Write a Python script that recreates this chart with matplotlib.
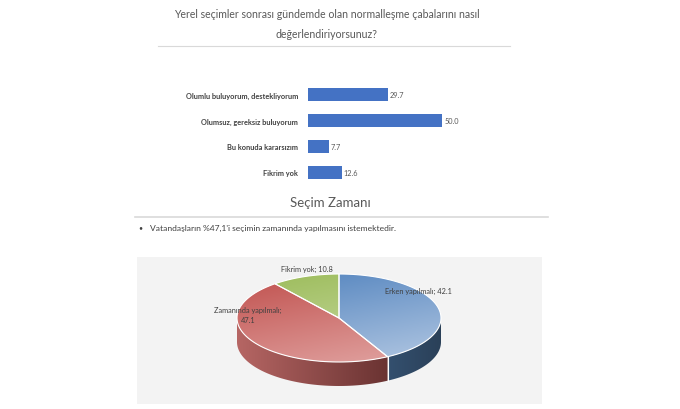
import matplotlib
matplotlib.use('Agg')

import matplotlib.pyplot as plt
from matplotlib.patches import Polygon
from matplotlib.lines import Line2D
from matplotlib.colors import to_rgb
import numpy as np

plt.rcParams['font.family'] = ['Lato', 'DejaVu Sans']

# -----------------------------
# DATA
# -----------------------------
title = 'Yerel seçimler sonrası gündemde olan normalleşme çabalarını nasıl\ndeğerlendiriyorsunuz?'
bar_labels = ['Olumlu buluyorum, destekliyorum', 'Olumsuz, gereksiz buluyorum',
              'Bu konuda kararsızım', 'Fikrim yok']
bar_values = [29.7, 50.0, 7.7, 12.6]

pie_title = 'Seçim Zamanı'
note = "Vatandaşların %47,1'i seçimin zamanında yapılmasını istemektedir."
pie_labels = ['Erken yapılmalı', 'Zamanında yapılmalı', 'Fikrim yok']
pie_values = [42.1, 47.1, 10.8]

# -----------------------------
# FIGURE
# -----------------------------
W, H = 680, 410
fig = plt.figure(figsize=(6.8, 4.1), dpi=100)
fig.patch.set_facecolor('white')


def fx(px):
    return px / W


def fy(py):
    return 1 - py / H


# title + rule
fig.text(fx(327), fy(24), title, ha='center', va='center', fontsize=7.6,
         linespacing=2.0, color='#595959')
fig.add_artist(Line2D([fx(158), fx(510)], [fy(47), fy(47)], color='#d9d9d9', lw=0.8))

# -----------------------------
# BAR CHART
# -----------------------------
ax = fig.add_axes([fx(308), fy(186.5), 160.8 / W, 104 / H])
y = np.arange(len(bar_values))
ax.barh(y, bar_values, height=0.5, color='#4472c4')
for i, v in enumerate(bar_values):
    ax.text(v + 0.8, i, f'{v:.1f}', va='center', ha='left', fontsize=5.3, color='#595959')
ax.set_xlim(0, 60)
ax.set_ylim(3.5, -0.5)
ax.set_yticks(y)
ax.set_yticklabels(bar_labels, fontsize=5.3, fontweight='bold', color='#404040')
ax.tick_params(axis='y', length=0, pad=7)
ax.set_xticks([])
for s in ax.spines.values():
    s.set_visible(False)
ax.patch.set_alpha(0)

# -----------------------------
# SECOND PANEL HEADER
# -----------------------------
fig.text(fx(330), fy(203), pie_title, ha='center', va='center', fontsize=9.5, color='#595959')
fig.add_artist(Line2D([fx(135), fx(548)], [fy(218), fy(218)], color='#d9d9d9', lw=1.2))
fig.text(fx(138), fy(228), '•', ha='left', va='center', fontsize=5, color='#404040')
fig.text(fx(150), fy(228), note, ha='left', va='center', fontsize=6.1, color='#404040')

# -----------------------------
# 3D PIE
# -----------------------------
px0, px1, py0, py1 = 137, 542, 258, 405
pax = fig.add_axes([fx(px0), fy(py1), (px1 - px0) / W, (py1 - py0) / H])
pax.set_facecolor('#f3f3f3')
for s in pax.spines.values():
    s.set_visible(False)
pax.set_xticks([])
pax.set_yticks([])

cx, cy, a, b, depth = 339, 319, 102, 44, 24
top_cols = [('#4f81bd', '#a9c1df'), ('#c0504d', '#df9e9c'), ('#9bbb59', '#c9dba3')]
side_cols = [('#34506f', '#2a4058'), ('#b66664', '#6a3332'), ('#7f9a48', '#5c7034')]


def pt(t):
    return cx + a * np.sin(t), cy - b * np.cos(t)


fracs = np.array(pie_values) / sum(pie_values)
edges = np.concatenate([[0], np.cumsum(fracs)]) * 2 * np.pi

# side walls (front half only), horizontal gradient from left to right
gy, gx = np.mgrid[0:1:120j, 0:1:240j]
for k in range(len(pie_values)):
    t0, t1 = max(edges[k], np.pi / 2), min(edges[k + 1], 1.5 * np.pi)
    if t1 <= t0:
        continue
    ts = np.linspace(t0, t1, 80)
    xs, ys = pt(ts)
    verts = list(zip(xs, ys)) + list(zip(xs[::-1], ys[::-1] + depth))
    side = Polygon(verts, closed=True, facecolor='none', edgecolor='none', zorder=1)
    pax.add_patch(side)
    xl, xr = xs.min(), xs.max()
    c0 = np.array(to_rgb(side_cols[k][0]))
    c1 = np.array(to_rgb(side_cols[k][1]))
    tt = gx[..., None]
    img = c0 * (1 - tt) + c1 * tt
    im = pax.imshow(img, extent=[xl, xr, cy + b + depth, cy - b], origin='upper',
                    aspect='auto', zorder=1, interpolation='bilinear')
    im.set_clip_path(side)
    if np.pi / 2 < edges[k + 1] < 1.5 * np.pi:
        xe, ye = pt(edges[k + 1])
        pax.plot([xe, xe], [ye, ye + depth], color='white', lw=0.8, zorder=2)

# top faces with gradient
for k in range(len(pie_values)):
    ts = np.linspace(edges[k], edges[k + 1], 80)
    xs, ys = pt(ts)
    verts = [(cx, cy)] + list(zip(xs, ys))
    clip = Polygon(verts, closed=True, facecolor='none', edgecolor='white', lw=0.8, zorder=4)
    pax.add_patch(clip)
    c0 = np.array(to_rgb(top_cols[k][0]))
    c1 = np.array(to_rgb(top_cols[k][1]))
    tt = np.clip(0.75 * gy + 0.35 * gx, 0, 1)[..., None]
    img = c0 * (1 - tt) + c1 * tt
    im = pax.imshow(img, extent=[cx - a, cx + a, cy + b, cy - b], origin='upper',
                    aspect='auto', zorder=3, interpolation='bilinear')
    im.set_clip_path(clip)

pax.set_xlim(px0, px1)
pax.set_ylim(py1, py0)

# labels
lab_pos = [(418, 291), (248, 315), (307, 269)]
for k, (lx, ly) in enumerate(lab_pos):
    txt = f'{pie_labels[k]}; {pie_values[k]}'
    if k == 1:
        txt = f'{pie_labels[k]};\n{pie_values[k]}'
    pax.text(lx, ly, txt, ha='center', va='center', fontsize=5.3, color='#404040',
             linespacing=1.5, zorder=5)

plt.savefig('out.png', dpi=100)
plt.close()
